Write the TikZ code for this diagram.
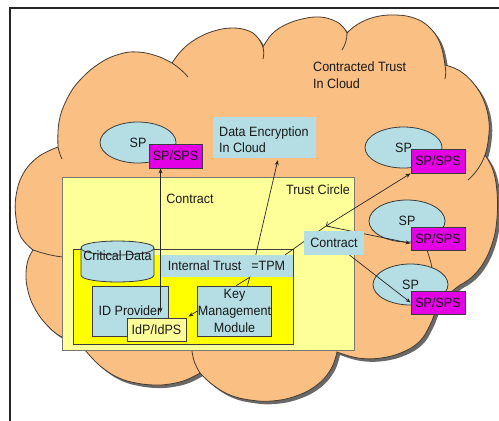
\documentclass[tikz,border=0pt]{standalone}
\usepackage{fontspec}
\setmainfont{Liberation Sans}[FakeStretch=0.93]
\usetikzlibrary{arrows.meta,calc,shapes.geometric}
\definecolor{cloudfill}{RGB}{250,191,131}
\definecolor{cloudline}{RGB}{70,60,50}
\definecolor{shadowcol}{RGB}{105,105,105}
\definecolor{lightblue}{RGB}{180,222,228}
\definecolor{spsmag}{RGB}{228,0,228}
\definecolor{lightyellow}{RGB}{255,255,153}
\definecolor{brightyellow}{RGB}{255,255,0}
\definecolor{edgecol}{RGB}{60,60,60}
\definecolor{trustedge}{RGB}{120,120,110}
\definecolor{linecol}{RGB}{40,40,40}
\definecolor{textcol}{RGB}{25,25,25}
\def\mycloudpath{plot[smooth,tension=0.7] coordinates {(33,250) (21,237) (16,218) (16,196) (23,174) (38,157) (58,147)}
 -- plot[smooth,tension=0.7] coordinates {(58,147) (59,122) (67,99) (80,80) (100,63) (120,54) (138,52) (157,56) (172,63)}
 -- plot[smooth,tension=0.7] coordinates {(172,63) (182,50) (196,39) (214,31) (233,28) (249,31) (258,38) (263,47)}
 -- plot[smooth,tension=0.7] coordinates {(263,47) (272,34) (285,25) (302,19) (320,17) (335,21) (343,27) (347,33)}
 -- plot[smooth,tension=0.7] coordinates {(347,33) (358,24) (375,17) (395,15) (414,18) (429,27) (440,43) (445,65)}
 -- plot[smooth,tension=0.7] coordinates {(445,65) (460,71) (474,84) (484,101) (489,122) (488,142) (485,155)}
 -- plot[smooth,tension=0.7] coordinates {(485,155) (493,170) (497,192) (497,218) (493,241) (484,262) (472,277) (460,285)}
 -- plot[smooth,tension=0.7] coordinates {(460,285) (447,296) (437,309) (430,325) (420,341) (403,352) (381,358) (358,358) (337,352)}
 -- plot[smooth,tension=0.7] coordinates {(337,352) (331,369) (317,385) (296,396) (272,401) (250,400) (230,395) (213,385) (200,373)}
 -- plot[smooth,tension=0.7] coordinates {(200,373) (186,380) (170,384) (154,385) (136,383) (119,378) (104,369) (92,358) (80,344)}
 -- plot[smooth,tension=0.7] coordinates {(80,344) (60,336) (45,323) (34,307) (28,291) (26,275) (28,260) (33,250)}
 -- cycle}
\begin{document}
\begin{tikzpicture}[x=1pt,y=-1pt,
  txt/.style={font=\fontsize{13.5}{16.7}\selectfont, text=textcol, inner sep=0pt},
  spell/.style={txt, ellipse, draw=edgecol, line width=0.8pt, fill=lightblue},
  spsbox/.style={txt, rectangle, draw=edgecol, line width=0.9pt, fill=spsmag, minimum width=54pt, minimum height=23pt},
  bluebox/.style={txt, rectangle, fill=lightblue},
  framedblue/.style={bluebox, draw=edgecol, line width=0.9pt},
  conn/.style={draw=linecol, line width=0.7pt},
  cloudarc/.style={draw=cloudline, line width=0.8pt},
  tipend/.style={-{Stealth[length=5pt,width=4pt]}},
  tipboth/.style={{Stealth[length=5pt,width=4pt]}-{Stealth[length=5pt,width=4pt]}}
]
\useasboundingbox (0,0) rectangle (499,421);
\clip (0,0) rectangle (499,421);
\fill[white] (0,0) rectangle (499,421);
% frame
\draw[line width=1.6pt, black!85] (10,440) -- (10,8) -- (520,8);
% cloud
\fill[shadowcol, shift={(3,3)}] \mycloudpath;
\path[draw=cloudline, line width=0.8pt, fill=cloudfill] \mycloudpath;
\draw[cloudarc] (58,147) .. controls (59,151) and (60,155) .. (62,159);
\draw[cloudarc] (172,63) .. controls (178,67) and (183,71) .. (188,77);
\draw[cloudarc] (263,47) .. controls (264,51) and (264,55) .. (263,59);
\draw[cloudarc] (347,33) .. controls (347,40) and (345,45) .. (342,50);
\draw[cloudarc] (445,65) .. controls (446,70) and (446,74) .. (445,79);
\draw[cloudarc] (485,155) .. controls (482,164) and (476,173) .. (468,180);
\draw[cloudarc] (427,250) .. controls (429,256) and (431,262) .. (432,268);
\draw[cloudarc] (200,373) .. controls (196,367) and (193,360) .. (192,351);
\draw[cloudarc] (33,250) .. controls (42,253) and (52,256) .. (63,257);
\node[txt, anchor=north west, align=left] (cloudlbl) at (313,61.8) {Contracted Trust\\In Cloud};
% data encryption
\node[bluebox, minimum width=103pt, minimum height=41pt] (enc) at (264.5,137.5) {};
\node[txt, anchor=north west, align=left] (enclbl) at (219,126.3) {Data Encryption\\In Cloud};
% service providers
\node[spell, minimum width=76pt, minimum height=41pt] (sp1) at (138,142.5) {SP};
\node[spsbox, minimum width=53pt, minimum height=24pt] (sps1) at (175.5,156) {SP/SPS};
\node[spell, minimum width=77pt, minimum height=41pt] (sp2) at (403.5,147.5) {SP};
\node[spsbox, minimum height=24pt] (sps2) at (438,161) {SP/SPS};
\node[spell, minimum width=76pt, minimum height=42pt] (sp3) at (407,221) {SP};
\node[spsbox] (sps3) at (438,238.5) {SP/SPS};
\node[spell, minimum width=75pt, minimum height=41pt] (sp4) at (410.5,284.5) {SP};
\node[spsbox] (sps4) at (438,302.5) {SP/SPS};
% trust circle
\node[draw=trustedge, fill=lightyellow, line width=0.8pt, inner sep=0pt, minimum width=292pt, minimum height=173pt] (trust) at (208,263.5) {};
\node[txt, anchor=base east] (tclbl) at (350,194.3) {Trust Circle};
\node[txt, anchor=base] (contractlbl) at (190,203.3) {Contract};
% inner area
\node[draw=edgecol, fill=brightyellow, line width=0.9pt, inner sep=0pt, minimum width=220pt, minimum height=95pt] (inner) at (183,296.5) {};
\fill[lightyellow] (152,249.5) rectangle (292.5,255);
% critical data cylinder
\path[draw=edgecol, fill=lightblue, line width=0.8pt] (81,248) -- (81,275) .. controls (81,284.3) and (154,284.3) .. (154,275) -- (154,248) .. controls (154,238.7) and (81,238.7) .. (81,248) -- cycle;
\draw[edgecol, line width=0.8pt] (81,248) .. controls (81,257.3) and (154,257.3) .. (154,248);
\node[txt] (crit) at (117.5,255.5) {Critical Data};
\node[bluebox, minimum width=133pt, minimum height=22pt] (itrust) at (226.5,266) {Internal Trust\hspace{10pt}=TPM};
\node[framedblue, minimum width=76pt, minimum height=50pt] (idbox) at (130,311) {ID Provider};
\node[txt, draw=edgecol, fill=lightyellow, line width=0.9pt, minimum width=59pt, minimum height=23pt] (idps) at (156.5,329.5) {IdP/IdPS};
\node[framedblue, minimum width=73pt, minimum height=50pt, align=center] (km) at (234.5,311) {Key\\Management\\Module};
% connectors
\coordinate (hub) at (326,226);
\coordinate (ctr) at (334,243);
\draw[conn, {Straight Barb[length=3pt,width=6pt]}-{Stealth[length=5pt,width=4pt]}] (hub) -- (sps2.south west);
\draw[conn, tipend] (hub) -- ($(sps3.south west)!0.3!(sps3.north west)$);
\draw[conn] ($(itrust.north east)+(-8,0)$) -- (hub);
\draw[conn, tipend] (ctr) -- (sps4.west);
\node[bluebox, minimum width=60pt, minimum height=24pt] (contract) at (ctr) {Contract};
\draw[conn, tipboth] ($(idps.north west)+(34,-5)$) -- ($(sps1.south west)+(12,0)$);
\draw[conn, tipend] ($(itrust.north west)+(96,0)$) -- ($(enc.south west)+(65,2)$);
\draw[conn] ($(km.north west)+(39,0)$) -- ($(itrust.south west)+(90,0)$) -- ($(km.north west)+(50,0)$);
\draw[conn, tipend] (km.west) -- ($(idps.north east)+(2,-1)$);
\end{tikzpicture}
\end{document}
